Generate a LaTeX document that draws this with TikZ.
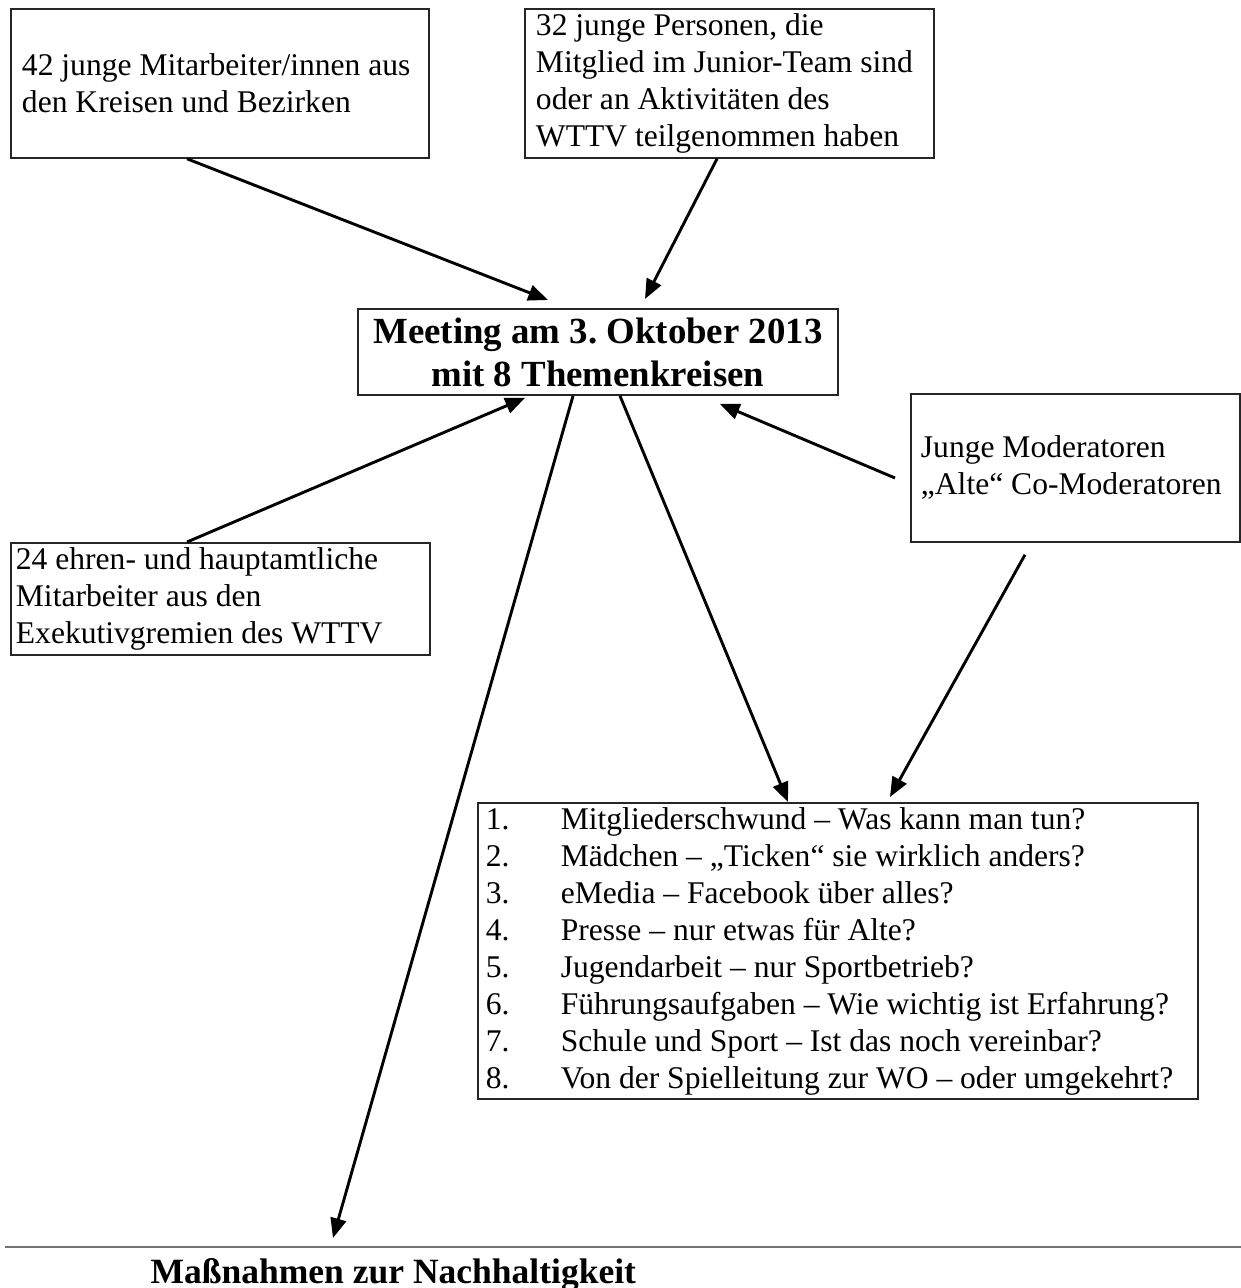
\documentclass[tikz,border=0pt]{standalone}
\usepackage{fontspec}
\setmainfont{Liberation Serif}
\usetikzlibrary{arrows.meta,calc}
\newcommand{\topicnr}[1]{\makebox[28.5pt][l]{#1}}

\begin{document}
\begin{tikzpicture}[x=0.38pt,y=-0.38pt]
\tikzstyle{block} = [rectangle, draw=black!85, line width=0.7pt, align=flush left,
anchor=north west, inner ysep=0pt, font=\fontsize{12pt}{14.06pt}\selectfont,
execute at begin node={\frenchspacing\spaceskip=0pt\xspaceskip=0pt}]
\tikzstyle{meeting} = [block, align=flush center, text width=174.4pt, inner xsep=4pt,
font=\bfseries\fontsize{14pt}{16.3pt}\selectfont]
\tikzstyle{line} = [draw, line width=1.1pt, -{Triangle[length=7.5pt,width=6pt]}];
\useasboundingbox (0,0) rectangle (1241,1288);

% top row
\node [block, text width=150.4pt, inner xsep=4.2pt, minimum height=56.6pt] (young) at (10,8)
{42 junge Mitarbeiter/innen aus\\den Kreisen und Bezirken};
\node [block, text width=147pt, inner xsep=4.2pt, minimum height=56.6pt] (junior) at (524,8)
{32 junge Personen, die\\Mitglied im Junior-Team sind\\oder an Aktivitäten des\\WTTV teilgenommen haben};
% middle
\node [meeting, minimum height=32.7pt] (meet) at (357,308)
{Meeting am 3. Oktober 2013\\mit 8 Themenkreisen};
\node [block, text width=117.4pt, inner xsep=3.8pt, minimum height=56.2pt] (mod) at (910,393)
{Junge Moderatoren\\„Alte“ Co-Moderatoren};
\node [block, text width=155.4pt, inner xsep=1.9pt, minimum height=42.6pt] (exec) at (10,542)
{24 ehren- und hauptamtliche\\Mitarbeiter aus den\\Exekutivgremien des WTTV};
% topics
\node [block, text width=267.6pt, inner xsep=3pt, minimum height=112.5pt] (topics) at (477,802)
{\topicnr{1.}Mitgliederschwund – Was kann man tun?\\
\topicnr{2.}Mädchen – „Ticken“ sie wirklich anders?\\
\topicnr{3.}eMedia – Facebook über alles?\\
\topicnr{4.}Presse – nur etwas für Alte?\\
\topicnr{5.}Jugendarbeit – nur Sportbetrieb?\\
\topicnr{6.}Führungsaufgaben – Wie wichtig ist Erfahrung?\\
\topicnr{7.}Schule und Sport – Ist das noch vereinbar?\\
\topicnr{8.}Von der Spielleitung zur WO – oder umgekehrt?};
% bottom
\coordinate (rl) at (5,1247);
\coordinate (rr) at (1241,1247);
\draw [black!55, line width=1.1pt] (rl) -- (rr);
\node [anchor=base west, inner sep=0pt, font=\bfseries\fontsize{13.5pt}{16pt}\selectfont] (measures)
at (150,1283) {Maßnahmen zur Nachhaltigkeit};

\tikzstyle{every path}=[line]
\path ($(young.south west)+(177,0)$) -- ($(meet.north west)+(191,-8)$);
\path ($(junior.south west)+(193,0)$) -- ($(meet.north west)+(288,-9)$);
\path ($(exec.north west)+(177,0)$) -- ($(meet.south west)+(168,2)$);
\path ($(mod.north west)+(-15,85)$) -- ($(meet.south east)+(-119,8)$);
\path ($(meet.south west)+(263,0)$) -- ($(topics.north west)+(311,0)$);
\path ($(mod.south west)+(115,12)$) -- ($(topics.north west)+(413,-5)$);
\path ($(meet.south west)+(216,0)$) -- ($(rl)+(328,-9)$);

\end{tikzpicture}
\end{document}
